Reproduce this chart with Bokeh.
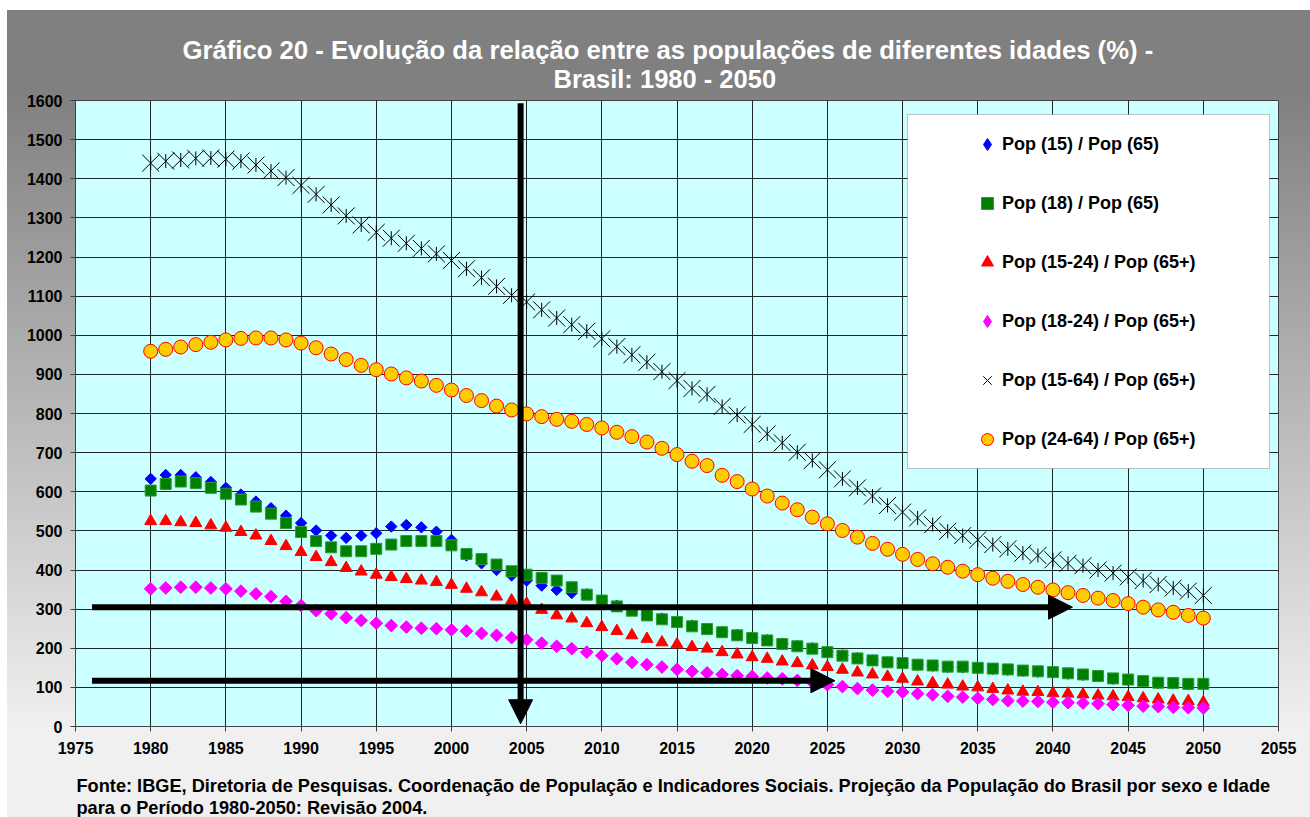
import numpy as np
from bokeh.plotting import figure
from bokeh.models import (ColumnDataSource, FixedTicker, Title, Arrow, NormalHead,
                          Legend, LegendItem, BoxAnnotation)
from bokeh.embed import file_html
from bokeh.resources import INLINE

# ---------------- data ----------------
years = list(range(1980, 2051))

pop15_65 = [633, 643, 643, 637, 625, 610, 593, 575, 558, 539,
            520, 501, 488, 482, 488, 494, 511, 515, 509, 498,
            477, 437, 417, 400, 386, 373, 360, 349, 341, 338,
            323, 309, 297, 286, 276, 268, 258, 250, 242, 234,
            227, 221, 212, 206, 200, 191, 182, 175, 169, 164,
            161, 157, 155, 152, 151, 149, 147, 145, 142, 140,
            138, 135, 132, 128, 122, 119, 115, 111, 110, 108,
            108]

pop18_65 = [603, 620, 626, 622, 610, 595, 580, 562, 544, 520,
            497, 474, 458, 448, 448, 454, 465, 474, 474, 474,
            463, 441, 428, 414, 397, 388, 380, 373, 356, 337,
            322, 307, 296, 284, 274, 267, 256, 249, 241, 233,
            226, 220, 211, 205, 199, 190, 181, 174, 169, 164,
            162, 158, 156, 153, 153, 150, 148, 146, 143, 141,
            139, 136, 133, 129, 123, 120, 116, 112, 111, 109,
            109]

pop15_24 = [525, 525, 522, 520, 514, 508, 497, 488, 474, 461,
            446, 433, 420, 405, 396, 388, 382, 377, 373, 369,
            362, 352, 343, 332, 322, 314, 298, 284, 276, 264,
            254, 244, 233, 224, 215, 210, 203, 199, 190, 184,
            177, 173, 166, 162, 156, 152, 145, 138, 133, 127,
            122, 115, 111, 107, 102, 100, 96, 92, 89, 88,
            85, 84, 82, 79, 77, 75, 72, 69, 66, 65,
            62]

pop18_24 = [352, 354, 356, 356, 354, 352, 346, 339, 332, 320,
            309, 296, 288, 278, 271, 264, 258, 254, 251, 250,
            247, 244, 238, 233, 227, 222, 213, 205, 199, 190,
            181, 173, 164, 158, 152, 146, 141, 137, 133, 130,
            128, 124, 122, 118, 113, 107, 102, 97, 93, 90,
            88, 84, 81, 77, 75, 72, 69, 66, 65, 64,
            62, 61, 60, 58, 56, 54, 52, 51, 49, 48,
            47]

pop15_64 = [1440, 1445, 1448, 1452, 1453, 1450, 1445, 1435, 1420, 1403,
            1383, 1360, 1333, 1305, 1282, 1263, 1248, 1235, 1222, 1208,
            1191, 1170, 1147, 1125, 1102, 1085, 1065, 1044, 1027, 1010,
            991, 971, 950, 931, 907, 884, 864, 849, 818, 796,
            772, 748, 725, 701, 680, 656, 633, 610, 589, 565,
            548, 533, 516, 499, 488, 477, 465, 454, 443, 437,
            426, 417, 411, 400, 392, 382, 373, 363, 354, 346,
            335]

pop24_64 = [959, 964, 970, 976, 982, 988, 992, 993, 993, 988,
            980, 968, 952, 938, 923, 912, 901, 891, 883, 872,
            860, 846, 833, 819, 809, 799, 792, 785, 780, 772,
            763, 752, 741, 727, 711, 695, 678, 667, 642, 626,
            607, 589, 571, 554, 535, 518, 501, 484, 468, 453,
            440, 427, 416, 407, 397, 388, 379, 371, 363, 356,
            349, 342, 335, 328, 322, 314, 305, 298, 292, 284,
            277]

series_labels = ["Pop (15) / Pop (65)", "Pop (18) / Pop (65)",
                 "Pop (15-24) / Pop (65+)", "Pop (18-24) / Pop (65+)",
                 "Pop (15-64) / Pop (65+)", "Pop (24-64) / Pop (65+)"]

x_ticks = list(range(1975, 2056, 5))
y_ticks = list(range(0, 1601, 100))

title_1 = "Gráfico 20 - Evolução da relação entre as populações de diferentes idades (%) -"
title_2 = "Brasil: 1980 - 2050"
source_1 = ("Fonte: IBGE, Diretoria de Pesquisas. Coordenação de População e Indicadores "
            "Sociais. Projeção da População do Brasil por sexo e Idade")
source_2 = "para o Período 1980-2050: Revisão 2004."

for s in (pop15_65, pop18_65, pop15_24, pop18_24, pop15_64, pop24_64):
    assert len(s) == len(years), len(s)

src = ColumnDataSource(dict(year=years, p15_65=pop15_65, p18_65=pop18_65,
                            p15_24=pop15_24, p18_24=pop18_24,
                            p15_64=pop15_64, p24_64=pop24_64))

# ---------------- figure ----------------
FONT = "Liberation Sans"
p = figure(width=1310, height=817, x_range=(1975, 2055), y_range=(0, 1600),
           output_backend="svg", toolbar_location=None,
           min_border_left=75, min_border_right=32, min_border_top=100, min_border_bottom=91)
p.background_fill_color = "#CCFFFF"
p.border_fill_color = None
p.styles = {"background": ("linear-gradient(90deg, #ffffff 0px, #ffffff 7px, rgba(255,255,255,0) 7px), "
                           "linear-gradient(180deg, #ffffff 0px, #ffffff 10px, #808080 10px, "
                           "#808080 92px, #f0f0f0 729px, #f0f0f0 100%)")}
p.outline_line_color = "#404040"
p.outline_line_width = 1

for ax, ticks in ((p.xaxis, x_ticks), (p.yaxis, y_ticks)):
    ax.ticker = FixedTicker(ticks=ticks)
    ax.major_label_text_font = FONT
    ax.major_label_text_font_style = "bold"
    ax.major_label_text_font_size = "16px"
    ax.major_label_text_color = "#000000"
    ax.axis_line_color = "#404040"
    ax.major_tick_line_color = "#404040"
    ax.major_tick_out = 5
    ax.major_tick_in = 0
    ax.minor_tick_line_color = None
p.xaxis.major_label_standoff = 10
p.yaxis.major_label_standoff = 8

p.xgrid.ticker = FixedTicker(ticks=x_ticks)
p.ygrid.ticker = FixedTicker(ticks=y_ticks)
for g in (p.xgrid, p.ygrid):
    g.grid_line_color = "#000000"
    g.grid_line_alpha = 0.85
    g.grid_line_width = 1

# ---------------- series ----------------
r_blue = p.scatter("year", "p15_65", source=src, marker="square", angle=np.pi / 4, size=8,
                   fill_color="#0000FF", line_color="#0000FF")
r_green = p.scatter("year", "p18_65", source=src, marker="square", size=11,
                    fill_color="#008000", line_color="#2E9E2E", line_width=1)
r_red = p.scatter("year", "p15_24", source=src, marker="triangle", size=12,
                  fill_color="#FF0000", line_color="#FF0000")
r_mag = p.scatter("year", "p18_24", source=src, marker="square", angle=np.pi / 4, size=9,
                  fill_color="#FF00FF", line_color="#FF00FF")
r_x = p.scatter("year", "p15_64", source=src, marker="x", size=24,
                line_color="#000000", line_width=1)
r_v = p.scatter("year", "p15_64", source=src, marker="dash", angle=np.pi / 2, size=14,
                line_color="#000000", line_width=1)
r_circ = p.scatter("year", "p24_64", source=src, marker="circle", size=14,
                   fill_color="#FFCC00", line_color="#FF0000", line_width=1)

# legend-only swatches for the diamond markers (legend draws markers unrotated)
nan_src = ColumnDataSource(dict(year=[float("nan")], v=[float("nan")]))
lg_blue = p.scatter("year", "v", source=nan_src, marker="diamond", size=12,
                    fill_color="#0000FF", line_color="#0000FF")
lg_mag = p.scatter("year", "v", source=nan_src, marker="diamond", size=12,
                   fill_color="#FF00FF", line_color="#FF00FF")

# ---------------- arrows ----------------
for xs, ys, xe, ye in ((2004.6, 1593, 2004.6, 7),
                       (1976.1, 305, 2041.3, 305),
                       (1976.1, 117, 2025.5, 117)):
    p.add_layout(Arrow(start=None, end=NormalHead(size=24, fill_color="#000000", line_color="#000000"),
                       x_start=xs, y_start=ys, x_end=xe, y_end=ye,
                       line_width=6, line_color="#000000"))

# ---------------- legend ----------------
box = BoxAnnotation(left=2030.33, right=2054.4, bottom=659.4, top=1564.2,
                    fill_color="#FFFFFF", fill_alpha=1.0, line_color="#404040", line_width=1)
p.add_layout(box)

legend = Legend(items=[LegendItem(label=series_labels[0], renderers=[lg_blue]),
                       LegendItem(label=series_labels[1], renderers=[r_green]),
                       LegendItem(label=series_labels[2], renderers=[r_red]),
                       LegendItem(label=series_labels[3], renderers=[lg_mag]),
                       LegendItem(label=series_labels[4], renderers=[r_x]),
                       LegendItem(label=series_labels[5], renderers=[r_circ])],
                location=(897, 272), orientation="vertical", padding=0, margin=0,
                spacing=29, glyph_width=30, glyph_height=30, label_height=30,
                label_standoff=0, label_text_font=FONT, label_text_font_style="bold",
                label_text_font_size="18px", label_text_color="#000000",
                background_fill_alpha=0, border_line_alpha=0)
p.add_layout(legend)

# ---------------- titles and source ----------------
title_style = dict(align="left", text_font=FONT, text_font_style="bold",
                   text_color="#FFFFFF")
p.add_layout(Title(text=title_2, offset=478, standoff=15, text_font_size="25.5px",
                   **title_style), "above")
p.add_layout(Title(text=title_1, offset=107, standoff=-17, text_font_size="25.7px",
                   **title_style), "above")

p.add_layout(Title(text="\n" + source_1 + "\n" + source_2, align="left", offset=1,
                   standoff=-10, text_font=FONT, text_font_style="bold",
                   text_font_size="18.2px", text_line_height=1.12, text_color="#000000"),
             "below")

open("out.html", "w").write(file_html(p, INLINE))
